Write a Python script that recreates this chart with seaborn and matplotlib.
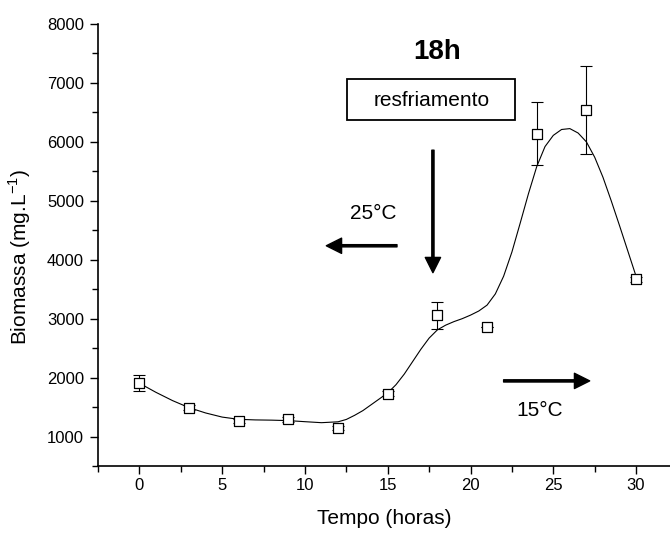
import matplotlib
matplotlib.use("Agg")
import matplotlib.pyplot as plt
import seaborn as sns
import pandas as pd
from matplotlib.patches import Rectangle

# ---- data ----
tempo = [0, 3, 6, 9, 12, 15, 18, 21, 24, 27, 30]
biomassa = [1905, 1490, 1260, 1290, 1145, 1730, 3056, 2853, 6136, 6545, 3665]
erro = [140, 45, 35, 35, 35, 35, 230, 0, 535, 750, 35]

# fitted smooth curve
curva_x = [0, 1, 2, 3, 4, 5, 6, 7, 8, 9, 10, 11, 12, 12.5, 13, 13.5, 14, 14.5,
           15, 15.5, 16, 16.5, 17, 17.5, 18, 18.5, 19, 19.5, 20, 20.5, 21,
           21.5, 22, 22.5, 23, 23.5, 24, 24.5, 25, 25.5, 26, 26.5, 27, 27.5,
           28, 28.5, 29, 29.5, 30]
curva_y = [1905, 1750, 1610, 1490, 1400, 1330, 1292, 1282, 1278, 1270, 1252,
           1235, 1250, 1290, 1360, 1440, 1540, 1640, 1740, 1880, 2060, 2270,
           2480, 2670, 2810, 2890, 2950, 3000, 3060, 3130, 3230, 3420, 3720,
           4130, 4620, 5120, 5580, 5920, 6110, 6210, 6225, 6150, 6000, 5740,
           5400, 5000, 4580, 4150, 3720]

xticks = [0, 5, 10, 15, 20, 25, 30]
yticks = [1000, 2000, 3000, 4000, 5000, 6000, 7000, 8000]

df_pts = pd.DataFrame({"Tempo": tempo, "Biomassa": biomassa, "erro": erro})
df_curve = pd.DataFrame({"Tempo": curva_x, "Biomassa": curva_y})

sns.set_style("ticks")
plt.rcParams["font.family"] = ["Liberation Sans", "DejaVu Sans"]
plt.rcParams["mathtext.fontset"] = "custom"
plt.rcParams["mathtext.rm"] = "Liberation Sans"
plt.rcParams["text.color"] = "black"
plt.rcParams["axes.labelcolor"] = "black"
plt.rcParams["xtick.color"] = "black"
plt.rcParams["ytick.color"] = "black"

fig = plt.figure(figsize=(6.7, 5.34), dpi=100)
ax = fig.add_axes([98 / 670, 68 / 534, 572 / 670, 442 / 534])

sns.lineplot(data=df_curve, x="Tempo", y="Biomassa", ax=ax, color="black",
             linewidth=0.8, zorder=2)
ax.errorbar(df_pts["Tempo"], df_pts["Biomassa"], yerr=df_pts["erro"], fmt="none",
            ecolor="black", elinewidth=0.8, capsize=4, capthick=0.8, zorder=3)
sns.scatterplot(data=df_pts, x="Tempo", y="Biomassa", ax=ax, marker="s", s=42,
                facecolor="white", edgecolor="black", linewidth=0.9, zorder=4)

ax.set_xlim(-2.5, 32.05)
ax.set_ylim(500, 8000)
ax.set_xticks(xticks)
ax.set_yticks(yticks)
ax.set_xticks([x + 2.5 for x in [-5] + xticks if -2.5 <= x + 2.5 <= 32], minor=True)
ax.set_yticks([y - 500 for y in yticks], minor=True)
ax.tick_params(axis="both", which="major", length=6, width=1, labelsize=12,
               color="black", labelcolor="black")
ax.tick_params(axis="both", which="minor", length=4, width=1, color="black")
ax.tick_params(axis="x", which="major", pad=3)
ax.tick_params(axis="y", which="major", pad=4)
for s in ["top", "right"]:
    ax.spines[s].set_visible(False)
for s in ["left", "bottom"]:
    ax.spines[s].set_linewidth(1.2)
    ax.spines[s].set_color("black")

ax.set_xlabel("Tempo (horas)", fontsize=15, color="black")
ax.set_ylabel(r"Biomassa (mg.L$^{\mathregular{-1}}$)", fontsize=15, color="black")
ax.xaxis.set_label_coords(0.5, -0.098)
ax.yaxis.set_label_coords(-0.113, 0.473)

# annotations
ax.text(18.0, 7520, "18h", fontsize=20, fontweight="bold", ha="center",
        va="center", color="black")
ax.add_patch(Rectangle((12.57, 6368), 22.71 - 12.57, 7063 - 6368, fill=False,
                       edgecolor="black", linewidth=1.3, zorder=5))
ax.text(17.63, 6707, "resfriamento", fontsize=15, ha="center", va="center",
        color="black")

arrow_kw = dict(facecolor="black", edgecolor="black", width=1.6, headwidth=11,
                headlength=11, shrink=0)
ax.annotate("", xy=(17.73, 3780), xytext=(17.73, 5859), arrowprops=arrow_kw)
ax.annotate("", xy=(11.29, 4237), xytext=(15.56, 4237), arrowprops=arrow_kw)
ax.annotate("", xy=(27.2, 1944), xytext=(22.0, 1944), arrowprops=arrow_kw)
ax.text(14.13, 4790, "25°C", fontsize=15, ha="center", va="center", color="black")
ax.text(24.18, 1436, "15°C", fontsize=15, ha="center", va="center", color="black")

fig.savefig("out.png", dpi=100)
